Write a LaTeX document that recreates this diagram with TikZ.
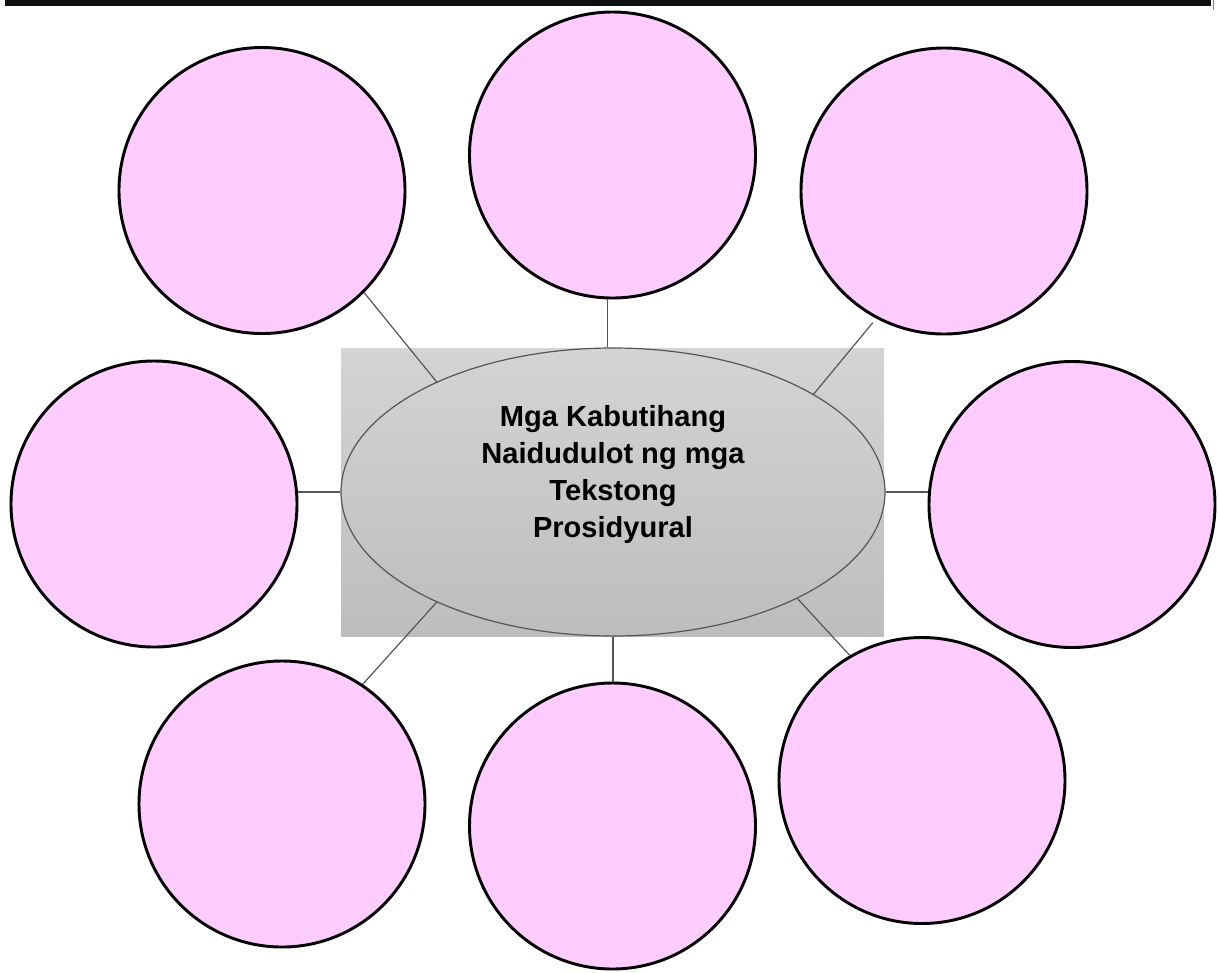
\documentclass[tikz,border=0pt]{standalone}
\usepackage{fontspec}
\setmainfont{Liberation Sans}
\usetikzlibrary{shapes.geometric}
\definecolor{pinkfill}{HTML}{FFCCFF}
\definecolor{gtop}{HTML}{D4D4D4}
\definecolor{gbot}{HTML}{BDBDBD}
\definecolor{linkgray}{HTML}{555555}
\definecolor{barblack}{HTML}{0F0F0F}
\tikzset{
  bubble/.style={circle, draw=black, line width=2.2pt, fill=pinkfill, minimum size=214.5pt, inner sep=0pt},
  hub/.style={ellipse, draw=linkgray, line width=0.9pt, top color=gtop, bottom color=gbot, minimum width=408pt, minimum height=216pt, inner sep=0pt},
  hubback/.style={rectangle, draw=none, top color=gtop, bottom color=gbot, minimum width=407pt, minimum height=216pt, inner sep=0pt},
  link/.style={draw=linkgray, line width=0.9pt},
  title/.style={align=center, font=\fontsize{21.8pt}{27.6pt}\selectfont\bfseries, inner sep=0pt}
}
\begin{document}
\begin{tikzpicture}[x=0.75pt, y=-0.75pt]
\useasboundingbox (0,0) rectangle (1218,972);
% top bar
\fill[barblack] (5,0) rectangle (1211,6);
\draw[gray, line width=0.6pt] (1213,0) -- (1213,10);
% centre
\node[hubback] (r) at (612.5,492) {};
\node[hub] (e) at (613,492) {};
\node[title] (t) at (613,474.5) {Mga Kabutihang\\Naidudulot ng mga\\Tekstong\\Prosidyural};
% bubbles
\node[bubble] (c1) at (262,190.5) {};
\node[bubble] (c2) at (612.5,155) {};
\node[bubble] (c3) at (944,191) {};
\node[bubble] (c4) at (154,504) {};
\node[bubble] (c5) at (1072,504.5) {};
\node[bubble] (c6) at (282,804) {};
\node[bubble] (c7) at (612.5,826) {};
\node[bubble] (c8) at (922,780.5) {};
% connectors
\draw[link] (c1.-45) -- (e.148);
\draw[link] (c2.-92) -- (c2.-92 |- e.north);
\draw[link, shorten >=4pt] (e.26.7) -- (c3.-118);
\draw[link] (e.west) -- (e.west -| c4.east);
\draw[link] (e.east) -- (e.east -| c5.west);
\draw[link] (c6.56) -- (e.-148);
\draw[link] (e.south) -- (e.south |- c7.north);
\draw[link] (c8.120.5) -- (e.-30.4);
\end{tikzpicture}
\end{document}
